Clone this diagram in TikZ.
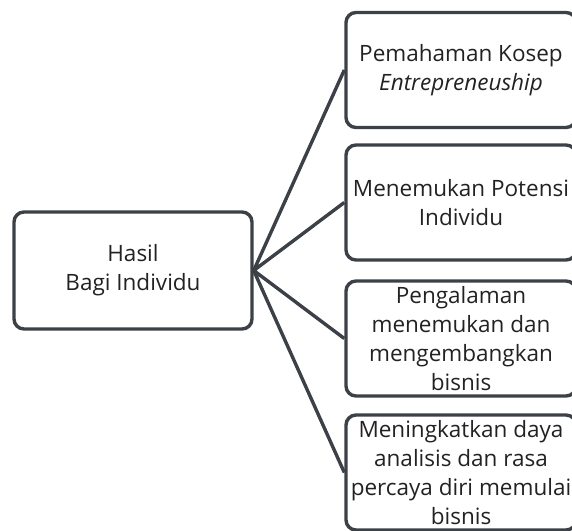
\documentclass[tikz,border=0pt]{standalone}
\usepackage{fontspec}
\setmainfont{Open Sans}
\usepackage{tikz}
\definecolor{boxgray}{HTML}{3C4047}
\definecolor{txtgray}{HTML}{222222}
\newcommand{\boxline}{3.4pt}

\begin{document}
\begin{tikzpicture}[x=1pt,y=-1pt,
  font=\fontsize{22.5}{29}\selectfont, text=txtgray]
\useasboundingbox (0,0) rectangle (572,530);
\clip (0,0) rectangle (572,530);
\node (hasil) at (133,270.5) [draw=boxgray, line width=\boxline, rounded corners=10pt, align=center, minimum width=238pt, minimum height=117pt] {Hasil\\Bagi Individu};
\node (kosep) at (461,70) [draw=boxgray, line width=\boxline, rounded corners=10pt, align=center, minimum width=230pt, minimum height=115pt] {Pemahaman Kosep\\\textit{Entrepreneuship}};
\node (potensi) at (461,202.5) [draw=boxgray, line width=\boxline, rounded corners=10pt, align=center, minimum width=230pt, minimum height=115pt] {Menemukan Potensi\\Individu};
\node (bisnis) at (461,338.5) [draw=boxgray, line width=\boxline, rounded corners=10pt, align=center, minimum width=230pt, minimum height=115pt] {Pengalaman\\menemukan dan\\mengembangkan\\bisnis};
\node (analisis) at (461,472.5) [draw=boxgray, line width=\boxline, rounded corners=10pt, align=center, minimum width=230pt, minimum height=115pt] {Meningkatkan daya\\analisis dan rasa\\percaya diri memulai\\bisnis};
%\draw (hasil.south) node[below] {};

\draw[boxgray, line width=\boxline]
(hasil.east) to (kosep.west)
(hasil.east) to (potensi.west)
(hasil.east) to (bisnis.west)
(hasil.east) to (analisis.west);

\end{tikzpicture}
\end{document}
